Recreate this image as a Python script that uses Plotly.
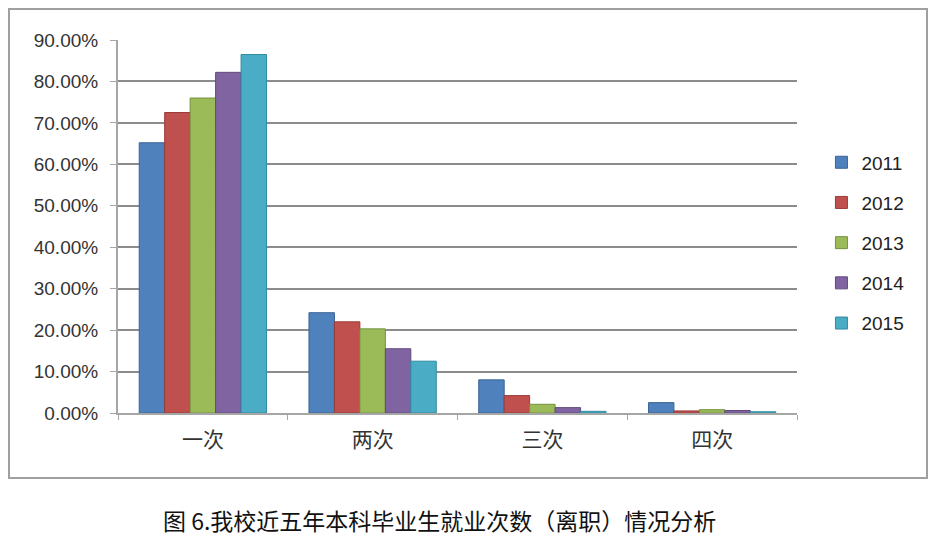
import plotly.graph_objects as go

categories = ["一次", "两次", "三次", "四次"]
years = ["2011", "2012", "2013", "2014", "2015"]
v2011 = [0.652, 0.242, 0.080, 0.025]
v2012 = [0.725, 0.220, 0.042, 0.005]
v2013 = [0.760, 0.203, 0.021, 0.008]
v2014 = [0.822, 0.155, 0.013, 0.006]
v2015 = [0.865, 0.125, 0.004, 0.003]
series = [v2011, v2012, v2013, v2014, v2015]
colors = ["#4F81BD", "#C0504D", "#9BBB59", "#8064A2", "#4BACC6"]
edges = ["#3A6396", "#983C3A", "#769040", "#604A7B", "#318BA3"]
caption = "图 6.我校近五年本科毕业生就业次数（离职）情况分析"

fig = go.Figure()
for name, vals, c, e in zip(years, series, colors, edges):
    fig.add_trace(go.Bar(
        x=categories, y=vals, name=name, legendgroup=name,
        marker=dict(color=c, line=dict(color=e, width=1)),
    ))

fig.update_layout(
    width=938, height=538,
    paper_bgcolor="white", plot_bgcolor="white",
    margin=dict(l=110, r=149, t=32, b=133),
    barmode="group", bargap=0.25, bargroupgap=0,
    font=dict(family="Liberation Sans, Arial, sans-serif", color="#333333"),
    showlegend=True,
    legend=dict(
        x=1.036, y=0.456, xanchor="left", yanchor="middle",
        font=dict(size=19, color="#222222"),
        tracegroupgap=12.5, traceorder="grouped",
        itemwidth=30, bgcolor="rgba(0,0,0,0)",
    ),
    xaxis=dict(
        showline=True, linecolor="#A6A6A6", linewidth=2,
        ticks="outside", tickson="boundaries", ticklen=5, tickcolor="#A6A6A6",
        ticklabelstandoff=7,
        tickfont=dict(size=21, family="Noto Sans CJK SC", color="#333333"),
        showgrid=False,
    ),
    yaxis=dict(
        range=[0, 0.9], dtick=0.1, tickformat=".2%",
        showline=True, linecolor="#A6A6A6", linewidth=2,
        ticks="outside", ticklen=6, tickcolor="#A6A6A6",
        ticklabelstandoff=8,
        showgrid=True, gridcolor="#8C8C8C", gridwidth=2,
        tickfont=dict(size=19, color="#333333"),
        zeroline=False,
    ),
    shapes=[dict(
        type="rect", xref="paper", yref="paper",
        x0=(1 - 110) / 679, x1=(919 - 110) / 679,
        y0=(405 - 470) / 373, y1=(405 - 1) / 373,
        line=dict(color="#A0A0A0", width=2), fillcolor="rgba(0,0,0,0)",
        layer="below",
    )],
    annotations=[dict(
        text=caption, xref="paper", yref="paper",
        x=(431 - 110) / 679, y=(405 - 512) / 373,
        xanchor="center", yanchor="middle", showarrow=False,
        font=dict(size=23, family="Noto Sans CJK SC", color="#111111"),
    )],
)

fig.write_html("out.html")
